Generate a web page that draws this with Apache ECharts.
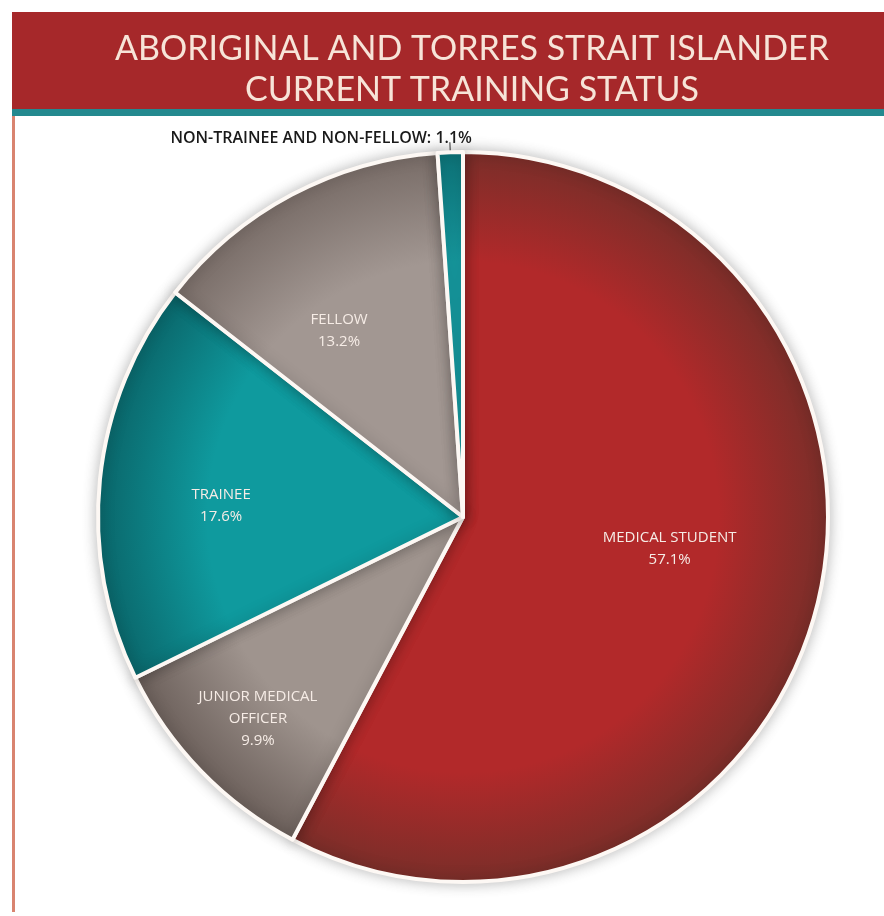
<!DOCTYPE html>
<html>
<head>
<meta charset="utf-8">
<script src="https://cdn.jsdelivr.net/npm/echarts@6/dist/echarts.min.js"></script>
<style>
  html, body { margin: 0; padding: 0; background: #fff; }
  #chart { width: 884px; height: 916px; }
</style>
</head>
<body>
<div id="chart"></div>
<script>
  // training status categories, clockwise from 12 o'clock
  var categories = ['MEDICAL STUDENT', 'JUNIOR MEDICAL\nOFFICER', 'TRAINEE', 'FELLOW', 'NON-TRAINEE AND NON-FELLOW'];
  var shares = [57.1, 9.9, 17.6, 13.2, 1.1];
  var titleLines = ['ABORIGINAL AND TORRES STRAIT ISLANDER', 'CURRENT TRAINING STATUS'];

  var W = 884, H = 916;
  var cx = 463, cy = 517, R = 365;

  // centre colour / rim colour per slice
  var shade = [
    ['#b2292a', '#7a2e29'],
    ['#9f948e', '#6c605b'],
    ['#0f9a9e', '#0a666a'],
    ['#a29792', '#786c67'],
    ['#169aa0', '#0d7378']
  ];

  function grad(i) {
    return {
      type: 'radial', x: cx, y: cy, r: R, global: true,
      colorStops: [
        {offset: 0, color: shade[i][0]},
        {offset: 0.7, color: shade[i][0]},
        {offset: 1, color: shade[i][1]}
      ]
    };
  }

  var data = categories.map(function (name, i) {
    var item = {
      name: name,
      value: shares[i],
      itemStyle: {color: grad(i)}
    };
    if (i === categories.length - 1) {
      item.label = {
        position: 'outside',
        formatter: '{b}: {c}%',
        color: '#1a1a1a',
        fontSize: 16,
        fontWeight: 600,
        fontFamily: 'Open Sans',
        distanceToLabelLine: 2
      };
      item.labelLine = {show: true, length: 10, length2: 0, lineStyle: {color: '#333', width: 1}};
    }
    return item;
  });

  var chart = echarts.init(document.getElementById('chart'));
  chart.setOption({
    backgroundColor: '#fff',
    graphic: [
      {type: 'rect', shape: {x: 12, y: 12, width: W - 12, height: 97}, style: {fill: '#a6282a'}},
      {type: 'rect', shape: {x: 12, y: 109, width: W - 12, height: 7}, style: {fill: '#23898f'}},
      {type: 'rect', shape: {x: 12, y: 116, width: 3, height: H - 120}, style: {fill: '#d98470'}}
    ],
    title: {
      text: titleLines.join('\n'),
      left: 467,
      textAlign: 'center',
      top: 24,
      textStyle: {
        color: '#f7e4d8',
        fontSize: 34,
        fontWeight: 'normal',
        fontFamily: 'Lato',
        lineHeight: 41
      }
    },
    series: [
      {
        type: 'pie',
        center: [cx, cy],
        radius: [0, R],
        startAngle: 90,
        clockwise: true,
        avoidLabelOverlap: false,
        itemStyle: {
          borderColor: '#fdf8f4',
          borderWidth: 4,
          shadowBlur: 14,
          shadowColor: 'rgba(0,0,0,0.25)'
        },
        label: {
          show: true,
          position: 'inside',
          formatter: '{b}\n{c}%',
          color: '#f6ece6',
          fontSize: 15,
          fontFamily: 'Open Sans',
          lineHeight: 22
        },
        labelLine: {show: false},
        labelLayout: function (p) {
          var r = p.labelRect;
          if (p.dataIndex === categories.length - 1) {
            return {dx: 24, dy: -4};
          }
          var lx = r.x + r.width / 2 - cx;
          var ly = r.y + r.height / 2 - cy;
          var k = [0.12, 0.45, 0.3, 0.25][p.dataIndex];
          var ey = [-18, 14, 14, 18][p.dataIndex];
          var ex = [5, -12, -2, -15][p.dataIndex];
          return {dx: lx * k + ex, dy: ly * k + ey};
        },
        data: data
      }
    ]
  });
</script>
</body>
</html>
